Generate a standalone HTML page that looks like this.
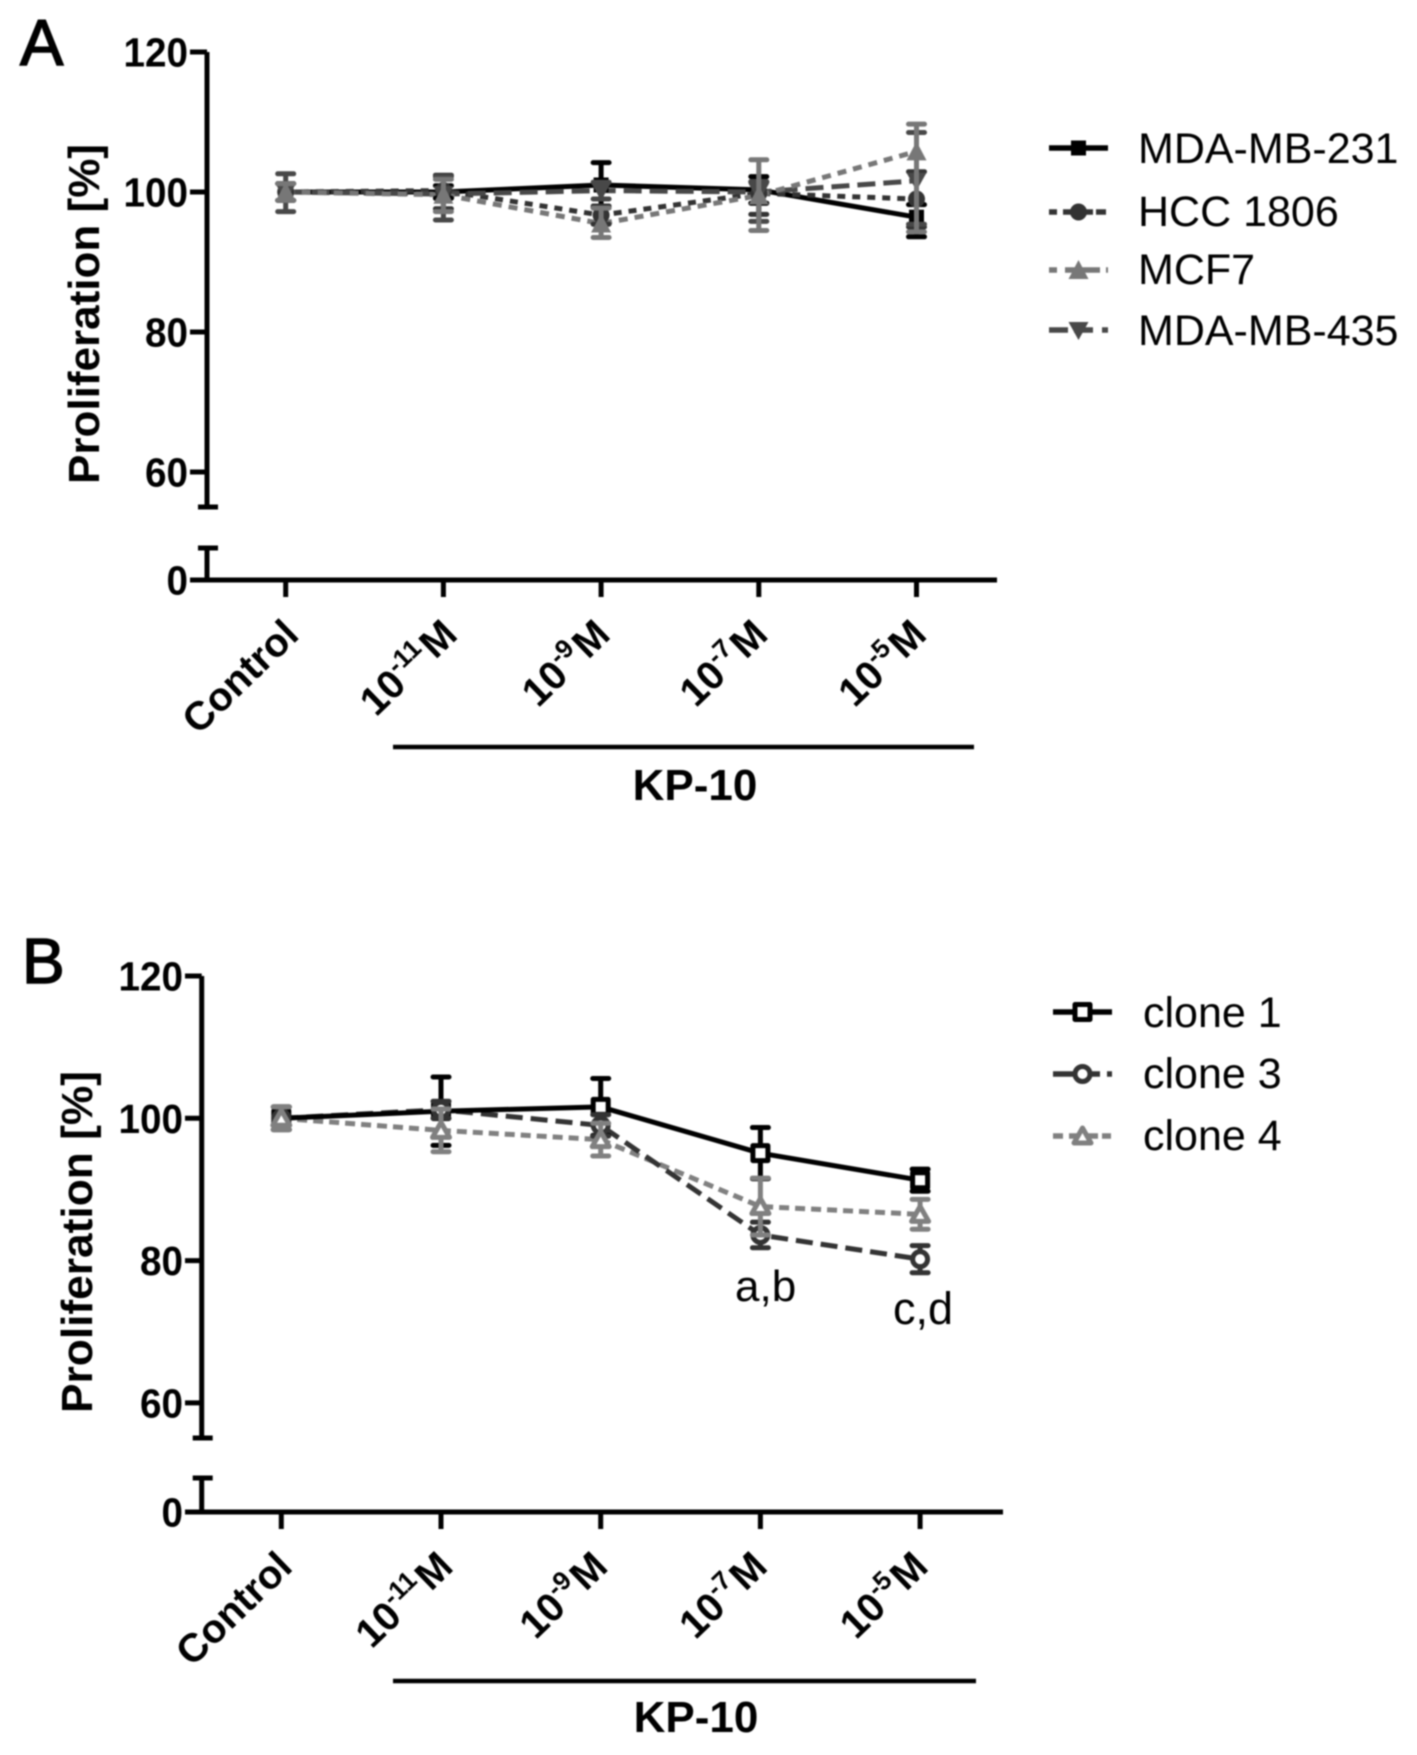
<!DOCTYPE html>
<html lang="en">
<head>
<meta charset="utf-8">
<title>KP-10 proliferation charts</title>
<style>
html,body{margin:0;padding:0;background:#fff;width:1417px;height:1755px;overflow:hidden}
svg{display:block;filter:blur(0.8px)}
text{font-family:"Liberation Sans",sans-serif;fill:#000}
.b{font-weight:700}
</style>
</head>
<body>
<svg id="figure" xmlns="http://www.w3.org/2000/svg" width="1417" height="1755" viewBox="0 0 1417 1755">
  <rect width="1417" height="1755" fill="#fff"/>
  <text x="20" y="65" font-size="65" stroke="#000" stroke-width="1.5">A</text>
  <text x="22" y="983" font-size="64" stroke="#000" stroke-width="1.5">B</text>
  <text class="b" font-size="44" text-anchor="middle" textLength="340" lengthAdjust="spacingAndGlyphs" transform="translate(99 314) rotate(-90)">Proliferation [%]</text>
  <text class="b" font-size="44" text-anchor="middle" textLength="342" lengthAdjust="spacingAndGlyphs" transform="translate(92 1242) rotate(-90)">Proliferation [%]</text>
  <line x1="393" x2="974" y1="747" y2="747" stroke="#000" stroke-width="4.5"/>
  <line x1="393" x2="976" y1="1681" y2="1681" stroke="#000" stroke-width="4.5"/>
  <text class="b" x="695" y="800" font-size="44" text-anchor="middle">KP-10</text>
  <text class="b" x="696" y="1732" font-size="44" text-anchor="middle">KP-10</text>
  <text x="735" y="1301" font-size="44">a,b</text>
  <text x="893" y="1324" font-size="45">c,d</text>
</svg>
<script>
// ---- shared categories and tick labels ----
const doseBases = ['Control', '10', '10', '10', '10'];
const doseExponents = ['', '-11', '-9', '-7', '-5'];
const yTickValues = [0, 60, 80, 100, 120];

// ---- panel A data ----
const seriesNamesA = ['MDA-MB-231', 'HCC 1806', 'MDA-MB-435', 'MCF7'];
const mda231Values = [100, 100, 101, 100.3, 96.4];
const mda231ErrHi = [1.2, 0.9, 3.2, 1.9, 1.8];
const mda231ErrLo = [1.2, 0.9, 3.2, 1.9, 2.8];
const hcc1806Values = [100, 100.2, 96.7, 99.8, 99];
const hcc1806ErrHi = [1.2, 2.2, 1.3, 1.6, 3.9];
const hcc1806ErrLo = [1.2, 2.6, 1.3, 3.0, 4.0];
const mda435Values = [100, 99.7, 100.2, 100, 101.6];
const mda435ErrHi = [2.6, 2.5, 1.2, 1.5, 6.9];
const mda435ErrLo = [2.8, 3.7, 1.2, 4.2, 6.2];
const mcf7Values = [100, 99.6, 95.5, 99.5, 105.8];
const mcf7ErrHi = [1.2, 2.2, 2.2, 5.1, 3.9];
const mcf7ErrLo = [1.2, 2.4, 2.0, 5.0, 11.5];

// ---- panel B data ----
const seriesNamesB = ['clone 1', 'clone 3', 'clone 4'];
const clone1Values = [100, 101, 101.6, 95.1, 91.3];
const clone1Err = [1.6, 4.8, 4.0, 3.6, 1.55];
const clone3Values = [100, 101.2, 99, 83.6, 80.2];
const clone3Err = [1.6, 1.2, 1.5, 1.8, 1.9];
const clone4Values = [100, 98.3, 97, 87.6, 86.5];
const clone4Err = [1.6, 3.0, 2.3, 4.0, 2.1];

// ---- helpers ----
const NS = 'http://www.w3.org/2000/svg';
const figure = document.getElementById('figure');
function make(tag, attrs, parent) {
  const node = document.createElementNS(NS, tag);
  for (const k in attrs) node.setAttribute(k, attrs[k]);
  parent.appendChild(node);
  return node;
}
function slug(s) { return s.toLowerCase().replace(/[^a-z0-9]+/g, '-'); }

function drawMarker(parent, kind, cx, cy, color, open) {
  const style = open
    ? { fill: '#fff', stroke: color, 'stroke-width': 5, 'stroke-linejoin': 'round' }
    : { fill: color, stroke: 'none' };
  let m;
  if (kind === 'square') {
    const s = 15;
    m = make('rect', Object.assign({ x: cx - s / 2, y: cy - s / 2, width: s, height: s }, style), parent);
  } else if (kind === 'circle') {
    m = make('circle', Object.assign({ cx: cx, cy: cy, r: open ? 7.5 : 8.5 }, style), parent);
  } else if (kind === 'up') {
    const w = open ? 8.5 : 10, h = open ? 7 : 9;
    m = make('polygon', Object.assign({ points: (cx - w) + ',' + (cy + h) + ' ' + (cx + w) + ',' + (cy + h) + ' ' + cx + ',' + (cy - h - 1) }, style), parent);
  } else {
    m = make('polygon', Object.assign({ points: (cx - 10) + ',' + (cy - 8) + ' ' + (cx + 10) + ',' + (cy - 8) + ' ' + cx + ',' + (cy + 10) }, style), parent);
  }
  
  
  return m;
}

function drawAxes(p) {
  const g = make('g', { stroke: '#000', 'stroke-width': 5, fill: 'none' }, figure);
  
  
  const upper = make('path', { d: 'M' + p.axisX + ' ' + p.y(120) + 'V' + p.breakTop + 'M' + (p.axisX - 9) + ' ' + p.breakTop + 'H' + (p.axisX + 11) }, g);
  
  
  const lower = make('path', { d: 'M' + (p.axisX - 9) + ' ' + p.breakBottom + 'H' + (p.axisX + 11) + 'M' + p.axisX + ' ' + p.breakBottom + 'V' + p.y(0) }, g);
  
  
  const base = make('line', { x1: p.tickLeft, x2: p.axisEnd, y1: p.y(0), y2: p.y(0) }, g);
  
  

  yTickValues.forEach(function (v) {
    const t = make('line', { x1: p.tickLeft, x2: p.axisX, y1: p.y(v), y2: p.y(v) }, g);
    
    
    const s = String(v);
    const label = make('text', { x: p.labelRight, y: p.y(v) + 14.5, 'font-size': 41, 'text-anchor': 'end', 'class': 'b', textLength: s.length * 21.5, lengthAdjust: 'spacingAndGlyphs' }, figure);
    label.textContent = s;
    
    
  });

  doseBases.forEach(function (base, i) {
    const x = p.x(i);
    const t = make('line', { x1: x, x2: x, y1: p.y(0), y2: p.y(0) + 17 }, g);
    
    
    const tx = x + p.labelShift[i];
    const ty = p.y(0) + 57;
    const label = make('text', { 'font-size': 40, 'class': 'b', 'text-anchor': 'end', transform: 'translate(' + tx + ' ' + ty + ') rotate(-44)' }, figure);
    
    
    const first = make('tspan', {}, label);
    first.textContent = base;
    if (doseExponents[i]) {
      const sup = make('tspan', { 'font-size': 26, dy: -16 }, label);
      sup.textContent = doseExponents[i];
      const unit = make('tspan', { dy: 16, dx: 2 }, label);
      unit.textContent = 'M';
    }
  });
}

function drawLine(p, s) {
  const pts = s.values.map(function (v, i) { return p.x(i) + ',' + p.y(v); }).join(' ');
  const line = make('polyline', { points: pts, fill: 'none', stroke: s.color, 'stroke-width': 5, 'stroke-dasharray': s.dash, 'stroke-linecap': 'butt', 'stroke-linejoin': 'round' }, figure);
  
  
}

function drawMarks(p, s) {
  const g = make('g', {}, figure);
  
  
  s.values.forEach(function (v, i) {
    const x = p.x(i);
    const top = p.y(v + s.errHi[i]);
    const bot = p.y(v - s.errLo[i]);
    const bar = make('path', { d: 'M' + x + ' ' + top + 'V' + bot + 'M' + (x - 8) + ' ' + top + 'H' + (x + 8) + 'M' + (x - 8) + ' ' + bot + 'H' + (x + 8), stroke: s.color, 'stroke-width': 5, fill: 'none', 'stroke-linecap': 'round' }, g);
    
    
  });
  s.values.forEach(function (v, i) {
    drawMarker(g, s.kind, p.x(i), p.y(v), s.color, s.open);
  });
}

function drawLegendEntry(p, s) {
  const g = make('g', {}, figure);
  
  
  const sample = make('line', { x1: p.legendX1, x2: p.legendX2, y1: s.legendY, y2: s.legendY, stroke: s.color, 'stroke-width': 5.5, 'stroke-dasharray': s.legendDash }, g);
  
  
  drawMarker(g, s.kind, (p.legendX1 + p.legendX2) / 2, s.legendY, s.color, s.open);
  const label = make('text', { x: p.legendTextX, y: s.legendBase, 'font-size': 43 }, g);
  label.textContent = s.name;
  
  
}

// ---- panel A ----
const panelA = {
  id: 'panel-a',
  x: function (i) { return 285.7 + i * 157.7; },
  y: function (v) { return v < 20 ? 580 - v : 192 + (100 - v) * 7; },
  axisX: 207, axisEnd: 997, tickLeft: 190, labelRight: 188,
  breakTop: 507, breakBottom: 548,
  labelShift: [15, 16, 11, 11, 12],
  legendX1: 1049, legendX2: 1108, legendTextX: 1138
};
const seriesA = [
  { name: seriesNamesA[0], values: mda231Values, errHi: mda231ErrHi, errLo: mda231ErrLo, color: '#000', kind: 'square', open: false, dash: 'none', legendDash: 'none', legendY: 148, legendBase: 163 },
  { name: seriesNamesA[1], values: hcc1806Values, errHi: hcc1806ErrHi, errLo: hcc1806ErrLo, color: '#333', kind: 'circle', open: false, dash: '8 7', legendDash: '8 6 30 3 10', legendY: 212, legendBase: 226 },
  { name: seriesNamesA[2], values: mda435Values, errHi: mda435ErrHi, errLo: mda435ErrLo, color: '#484848', kind: 'down', open: false, dash: '18 8', legendDash: '19 6 19 9 6', legendY: 330, legendBase: 345 },
  { name: seriesNamesA[3], values: mcf7Values, errHi: mcf7ErrHi, errLo: mcf7ErrLo, color: '#777', kind: 'up', open: false, dash: '9 7', legendDash: '8 8 35 6 2', legendY: 270, legendBase: 284 }
];

// ---- panel B ----
const panelB = {
  id: 'panel-b',
  x: function (i) { return 281.3 + i * 159.7; },
  y: function (v) { return v < 20 ? 1512 - v : 1118.3 + (100 - v) * 7.115; },
  axisX: 201.7, axisEnd: 1003, tickLeft: 185, labelRight: 183,
  breakTop: 1438, breakBottom: 1478,
  labelShift: [13, 14, 9, 9, 10],
  legendX1: 1053, legendX2: 1112, legendTextX: 1143
};
const seriesB = [
  { name: seriesNamesB[0], values: clone1Values, errHi: clone1Err, errLo: clone1Err, color: '#000', kind: 'square', open: true, dash: 'none', legendDash: 'none', legendY: 1012, legendBase: 1027 },
  { name: seriesNamesB[1], values: clone3Values, errHi: clone3Err, errLo: clone3Err, color: '#333', kind: 'circle', open: true, dash: '17 8', legendDash: '47 7 5', legendY: 1074, legendBase: 1088 },
  { name: seriesNamesB[2], values: clone4Values, errHi: clone4Err, errLo: clone4Err, color: '#808080', kind: 'up', open: true, dash: '10 6', legendDash: '10 6 29 4 9', legendY: 1136, legendBase: 1150 }
];

drawAxes(panelA);
seriesA.forEach(function (s) { drawLine(panelA, s); });
seriesA.forEach(function (s) { drawMarks(panelA, s); });
seriesA.forEach(function (s) { drawLegendEntry(panelA, s); });
drawAxes(panelB);
seriesB.slice().reverse().forEach(function (s) { drawLine(panelB, s); });
seriesB.forEach(function (s) { drawMarks(panelB, s); });
seriesB.forEach(function (s) { drawLegendEntry(panelB, s); });
</script>
</body>
</html>
